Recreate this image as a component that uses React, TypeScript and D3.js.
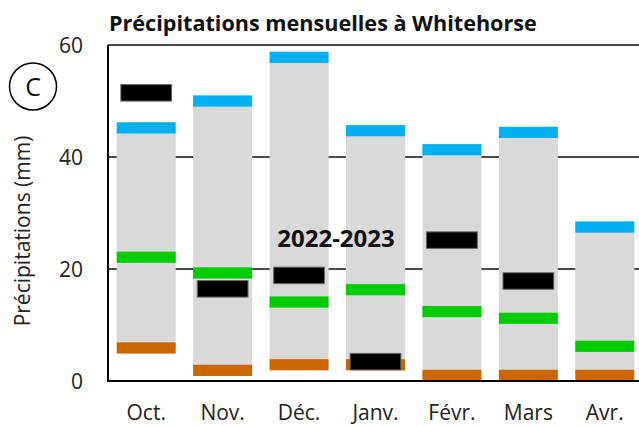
import React from 'react';
import * as d3 from 'd3';

// mois (oct. 2022 - avr. 2023)
const months = ['Oct.', 'Nov.', 'Déc.', 'Janv.', 'Févr.', 'Mars', 'Avr.'];
// valeurs historiques (mm)
const maxValues = [45.2, 50.0, 57.8, 44.7, 41.3, 44.4, 27.5];
const minValues = [5.9, 1.9, 2.9, 2.9, 1.0, 1.0, 1.0];
const medianValues = [22.1, 19.3, 14.1, 16.3, 12.4, 11.2, 6.2];
// saison 2022-2023 (pas de valeur pour avril)
const seasonValues: (number | null)[] = [51.5, 16.5, 18.9, 3.5, 25.2, 17.9, null];
const yTicks = [0, 20, 40, 60];

const W = 639;
const H = 426;
const margin = { top: 45, right: -4, bottom: 45, left: 108 };
const font = '"Open Sans", sans-serif';

export default function App() {
  const x = d3.scaleBand<string>()
    .domain(months)
    .range([margin.left, W - margin.right])
    .paddingInner(0.228)
    .paddingOuter(0.114);
  const y = d3.scaleLinear().domain([0, 60]).range([H - margin.bottom, margin.top]);

  const bw = x.bandwidth();
  const band = 2; // épaisseur des marques en mm
  const bandPx = y(0) - y(band);

  const marker = (v: number, color: string, key: string, i: number) => (
    <rect key={key} x={x(months[i])} y={y(v + band / 2)} width={bw} height={bandPx} fill={color} />
  );

  return (
    <svg width={W} height={H} style={{ position: 'absolute', left: 0, top: 0 }} fontFamily={font}>
      <rect width={W} height={H} fill="white" />
      <text x={margin.left + 1} y={31} fontSize={21.6} fontWeight="bold" fill="#111">
        Précipitations mensuelles à Whitehorse
      </text>

      {/* lignes de grille */}
      {yTicks.filter(t => t > 0).map(t => (
        <line key={t} x1={margin.left} x2={W} y1={y(t)} y2={y(t)} stroke="#111" strokeWidth={1.5} />
      ))}

      {/* barres min-max */}
      {months.map((m, i) => (
        <rect key={m} x={x(m)} y={y(maxValues[i])} width={bw}
          height={y(minValues[i]) - y(maxValues[i])} fill="#d9d9d9" />
      ))}
      {months.map((m, i) => marker(maxValues[i], '#00b0f0', 'max' + m, i))}
      {months.map((m, i) => marker(minValues[i], '#cc6600', 'min' + m, i))}
      {months.map((m, i) => marker(medianValues[i], '#00cc00', 'med' + m, i))}
      {months.map((m, i) => {
        const v = seasonValues[i];
        if (v == null) return null;
        const w = bw * 0.86;
        return (
          <rect key={'s' + m} x={(x(m) as number) + (bw - w) / 2} y={y(v) - 8} width={w} height={16.5}
            fill="#000" stroke="#666" strokeWidth={1} />
        );
      })}

      <text x={336} y={247} textAnchor="middle" fontSize={24} fontWeight="bold" fill="#111">2022-2023</text>

      {/* axes */}
      <line x1={margin.left} x2={margin.left} y1={y(60)} y2={y(0)} stroke="#000" strokeWidth={2} />
      <line x1={margin.left - 1} x2={W} y1={y(0)} y2={y(0)} stroke="#000" strokeWidth={2} />

      {yTicks.map(t => (
        <text key={t} x={83} y={y(t)} dy="0.36em" textAnchor="end" fontSize={21} fill="#222">{t}</text>
      ))}
      {months.map(m => (
        <text key={m} x={(x(m) as number) + bw / 2} y={420} textAnchor="middle" fontSize={21} fill="#222">{m}</text>
      ))}

      <text transform={`translate(30,${231}) rotate(-90)`} textAnchor="middle" fontSize={21} fill="#222">
        Précipitations (mm)
      </text>

      <circle cx={33} cy={86.5} r={23.5} fill="none" stroke="#000" strokeWidth={1.5} />
      <text x={33} y={86.5} dy="0.36em" textAnchor="middle" fontSize={25} fill="#111">C</text>
    </svg>
  );
}
